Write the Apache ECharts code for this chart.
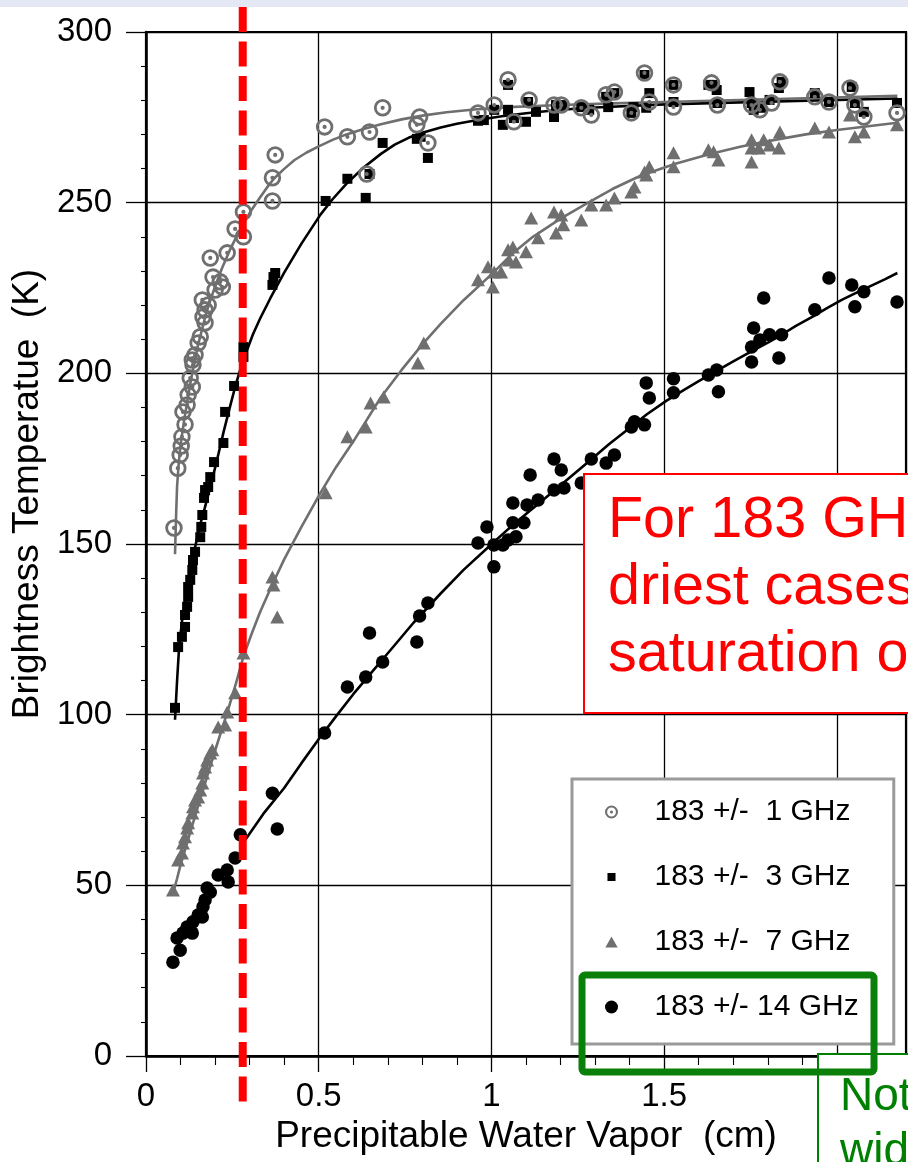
<!DOCTYPE html>
<html><head><meta charset="utf-8">
<script src="https://cdn.jsdelivr.net/npm/echarts@6/dist/echarts.min.js"></script>
<style>html,body{margin:0;padding:0;background:#fff}#c{width:908px;height:1162px}</style>
</head><body><div id="c"></div>
<script>
const seriesNames = ['183 +/-  1 GHz', '183 +/-  3 GHz', '183 +/-  7 GHz', '183 +/- 14 GHz'];
const xAxisTitle = 'Precipitable Water Vapor  (cm)';
const yAxisTitle = 'Brightness Temperatue  (K)';
const cutoffPWV = 0.28;
const redNote = ['For 183 GHz ±1, even the', 'driest cases show', 'saturation of signal'];
const greenNote = ['Note the', 'widest band'];

// [PWV (cm), Tb (K)]
const ch1Points = [[0.081,154.7],[0.092,172.2],[0.099,176.1],[0.102,178.7],[0.104,181.4],[0.113,185.0],[0.107,188.7],[0.119,190.7],[0.122,193.7],[0.134,196.0],[0.128,198.6],[0.136,202.5],[0.134,203.9],[0.142,205.4],[0.151,208.9],[0.157,210.7],[0.171,214.8],[0.165,216.5],[0.171,218.6],[0.180,220.0],[0.163,221.5],[0.200,224.4],[0.221,225.3],[0.215,226.8],[0.194,228.2],[0.186,233.8],[0.235,235.3],[0.282,240.0],[0.258,242.3],[0.282,247.3],[0.366,250.5],[0.366,257.3],[0.374,264.0],[0.517,272.2],[0.583,269.3],[0.639,258.4],[0.647,270.7],[0.685,277.8],[0.784,272.8],[0.792,275.1],[0.816,267.5],
[0.961,276.3],[1.008,278.6],[1.048,286.0],[1.065,273.7],[1.109,280.1],[1.181,278.6],[1.202,278.6],[1.260,277.8],[1.289,275.7],[1.332,281.6],[1.356,282.4],[1.405,276.3],[1.443,288.0],[1.457,279.5],[1.527,284.5],[1.527,278.0],[1.637,285.1],[1.654,278.6],[1.753,278.6],[1.777,277.2],[1.811,279.2],[1.835,285.4],[1.936,281.0],[1.977,279.5],[2.038,283.6],[2.052,278.6],[2.078,275.1],[2.174,276.3]];

const ch3Points = [[0.084,102.0],[0.093,119.8],[0.104,122.8],[0.113,125.7],[0.113,129.2],[0.119,131.6],[0.122,134.5],[0.122,137.4],[0.128,139.5],[0.134,142.4],[0.136,145.3],[0.142,147.7],[0.157,152.0],[0.160,155.0],[0.163,158.5],[0.168,163.5],[0.171,165.8],[0.180,166.7],[0.186,169.6],[0.197,174.0],[0.224,179.6],[0.229,188.7],[0.255,196.3],[0.282,204.8],[0.282,207.7],[0.366,225.9],[0.369,228.2],[0.374,229.4],[0.520,250.5],[0.583,257.0],[0.636,251.4],[0.647,258.4],[0.685,267.5],[0.784,268.7],[0.795,269.3],[0.816,263.1],
[0.961,274.0],[0.978,274.2],[1.008,277.2],[1.048,284.5],[1.033,272.8],[1.048,277.2],[1.065,274.8],[1.100,273.7],[1.106,279.5],[1.129,276.6],[1.181,275.1],[1.187,278.6],[1.208,278.6],[1.260,278.0],[1.283,277.2],[1.332,281.0],[1.338,278.0],[1.356,282.1],[1.411,278.0],[1.405,276.3],[1.443,287.4],[1.457,282.1],[1.448,277.8],[1.527,284.5],[1.527,279.5],[1.628,284.5],[1.643,284.5],[1.652,283.0],[1.654,279.2],[1.747,282.4],[1.753,279.2],[1.759,277.2],[1.782,277.8],[1.805,280.1],[1.832,283.6],[1.840,285.4],[1.936,282.1],[1.977,279.5],[2.043,283.9],[2.052,279.2],[2.078,276.6],[2.174,279.2]];

const ch7Points = [[0.078,48.6],[0.093,57.4],[0.104,59.5],[0.107,62.4],[0.113,64.2],[0.119,66.8],[0.122,68.3],[0.134,71.2],[0.136,73.0],[0.142,75.0],[0.151,75.9],[0.157,77.9],[0.163,80.0],[0.165,82.9],[0.171,84.7],[0.177,86.7],[0.186,88.8],[0.192,89.7],[0.209,96.4],[0.229,97.0],[0.235,100.8],[0.258,106.4],[0.282,118.1],[0.380,128.6],[0.369,138.0],[0.366,140.3],[0.520,165.0],[0.583,181.4],[0.636,184.3],[0.650,191.3],[0.688,193.1],[0.787,203.0],[0.804,208.9],
[0.961,227.4],[0.990,231.2],[1.008,229.7],[1.004,225.3],[1.028,229.7],[1.048,236.2],[1.062,237.0],[1.051,233.2],[1.071,232.6],[1.100,235.6],[1.115,245.5],[1.135,239.7],[1.181,247.3],[1.187,241.1],[1.202,246.4],[1.208,243.5],[1.260,244.9],[1.289,249.3],[1.332,249.3],[1.356,251.4],[1.405,253.1],[1.414,254.6],[1.443,259.0],[1.457,260.5],[1.448,258.1],[1.527,264.6],[1.527,260.5],[1.628,265.5],[1.643,264.9],[1.657,262.5],[1.753,268.4],[1.753,266.0],[1.753,261.9],[1.774,266.0],[1.788,268.4],[1.805,266.9],[1.832,266.0],[1.835,270.7],[1.936,271.9],[1.977,270.7],[2.038,275.7],[2.052,269.3],[2.078,270.7],[2.174,272.8]];

const ch14Points = [[0.078,27.5],[0.099,31.0],[0.090,34.6],[0.107,36.0],[0.119,37.8],[0.134,36.0],[0.136,39.3],[0.151,41.3],[0.163,40.7],[0.165,43.7],[0.171,45.7],[0.177,49.2],[0.186,48.0],[0.209,53.0],[0.235,54.5],[0.238,51.0],[0.258,58.0],[0.273,64.8],[0.366,77.0],[0.380,66.5],[0.517,94.6],[0.583,108.1],[0.636,111.0],[0.647,123.9],[0.685,115.4],[0.784,121.3],[0.792,128.9],[0.816,132.7],
[0.961,150.3],[0.987,155.0],[1.007,143.3],[1.007,149.7],[1.033,149.7],[1.048,151.2],[1.071,152.1],[1.062,156.2],[1.062,162.0],[1.094,156.2],[1.103,161.4],[1.112,170.2],[1.135,162.9],[1.181,165.8],[1.181,174.9],[1.202,171.7],[1.210,166.4],[1.260,167.9],[1.289,174.9],[1.332,173.7],[1.356,176.1],[1.405,184.3],[1.414,185.8],[1.443,184.9],[1.448,197.2],[1.457,192.8],[1.527,198.4],[1.527,194.3],[1.628,199.5],[1.652,201.0],[1.657,194.6],[1.753,207.7],[1.753,203.3],[1.759,213.3],[1.777,209.8],[1.805,211.3],[1.832,204.5],[1.840,211.3],[1.788,222.1],[1.936,218.6],[1.977,227.9],[2.043,225.9],[2.052,219.5],[2.078,223.9],[2.174,220.9]];

// fitted curves
const ch1Fit = [[0.084,147],[0.087,158],[0.09,167],[0.095,174],[0.1,179],[0.11,186],[0.12,192],[0.13,198],[0.14,203],[0.15,208],[0.16,212],[0.17,216],[0.18,219.5],[0.2,225.5],[0.22,230.8],[0.24,235.5],[0.26,239.7],[0.28,243.5],[0.305,247.8],[0.33,251.5],[0.35,254.4],[0.37,257],[0.4,259.9],[0.43,262.5],[0.465,264.7],[0.5,266.5],[0.54,268.4],[0.58,270],[0.63,271.6],[0.68,273],[0.74,274.4],[0.8,275.5],[0.87,276.5],[0.95,277.3],[1.05,278],[1.2,278.6],[1.35,279.1],[1.5,279.5],[1.8,280.3],[2.175,281.3]];
const ch3Fit = [[0.084,98.5],[0.09,110],[0.096,120],[0.105,128],[0.12,136],[0.13,142],[0.142,149],[0.155,155],[0.17,160.5],[0.192,169],[0.21,176.5],[0.225,183],[0.24,189],[0.258,196],[0.275,201.8],[0.293,207],[0.31,211.5],[0.33,216],[0.36,222],[0.4,229.5],[0.45,238],[0.505,246.5],[0.54,251],[0.58,255.5],[0.63,260.3],[0.68,264.3],[0.72,267],[0.76,269],[0.8,270.5],[0.853,272],[0.9,273.1],[0.96,274.2],[1.03,275.3],[1.1,276.2],[1.2,277.2],[1.3,277.9],[1.5,278.8],[1.8,279.6],[2.175,280.5]];
const ch7Fit = [[0.078,47.5],[0.09,52],[0.1,56],[0.125,64.5],[0.15,73],[0.175,81.3],[0.2,89.5],[0.235,100.5],[0.26,109],[0.282,117],[0.305,123.5],[0.33,130],[0.365,138],[0.4,145.5],[0.45,155],[0.505,165],[0.55,172.5],[0.6,180],[0.64,186.5],[0.68,193],[0.74,201],[0.8,208.5],[0.853,214.5],[0.92,221.5],[1.0,229],[1.06,235],[1.12,240],[1.2,245.3],[1.28,250],[1.35,254],[1.43,257.8],[1.53,261.3],[1.63,264.2],[1.72,266.4],[1.82,268.4],[1.91,270],[2.0,271.3],[2.09,272.4],[2.175,273.4]];
const ch14Fit = [[0.285,63],[0.34,71],[0.4,78.5],[0.45,85.8],[0.505,93.5],[0.55,99.5],[0.6,106],[0.65,112],[0.7,118],[0.775,127],[0.853,135.5],[0.92,142.5],[1.004,150.3],[1.05,154.5],[1.1,158.8],[1.15,163],[1.2,167.2],[1.28,174],[1.34,179.2],[1.4,184],[1.45,188],[1.507,192],[1.56,195.3],[1.6,197.7],[1.657,201],[1.7,203.5],[1.75,206.3],[1.8,209],[1.84,211.3],[1.88,213.8],[1.93,216.6],[1.97,219],[2.014,221.5],[2.06,223.8],[2.1,225.7],[2.14,227.6],[2.175,229.4]];

const GRAY = '#6f6f6f';
const FONT = "'Liberation Sans', Arial, Helvetica, sans-serif";
const RING = 'path://M10,0 A10,10 0 1,1 10,20 A10,10 0 1,1 10,0 Z M10,3.2 A6.8,6.8 0 1,0 10,16.8 A6.8,6.8 0 1,0 10,3.2 Z M10,7.6 A2.4,2.4 0 1,1 10,12.4 A2.4,2.4 0 1,1 10,7.6 Z';
const ICON_RING = RING;
const ICON_SQUARE = 'path://M0,0 M20,20 M3.8,3.8 L16.2,3.8 L16.2,16.2 L3.8,16.2 Z';
const ICON_TRI = 'path://M0,0 M20,20 M10,1.5 L19.5,18.5 L0.5,18.5 Z';
const ICON_DOT = 'path://M10,0 A10,10 0 1,1 10,20 A10,10 0 1,1 10,0 Z';

const chart = echarts.init(document.getElementById('c'), null, {renderer: 'canvas'});

function fitLine(name, data, color) {
  return {name: name, type: 'line', data: data, showSymbol: false, smooth: false,
    lineStyle: {color: color, width: 2.6}, itemStyle: {color: color}, z: 2, silent: true};
}

const option = {
  animation: false,
  backgroundColor: '#fff',
  textStyle: {fontFamily: FONT},
  grid: {left: 146, right: 2, top: 32, bottom: 106, show: true, borderColor: '#000', borderWidth: 2.2, backgroundColor: 'transparent'},
  xAxis: {
    type: 'value', min: 0, max: 2.2, interval: 0.5,
    name: xAxisTitle, nameLocation: 'middle', nameGap: 62,
    nameTextStyle: {fontSize: 37, color: '#000', fontFamily: FONT},
    axisLine: {lineStyle: {color: '#000', width: 2.5}},
    axisTick: {show: true, inside: false, length: 16, lineStyle: {color: '#000', width: 1.3}},
    minorTick: {show: true, splitNumber: 5, length: 9, lineStyle: {color: '#000', width: 1.1}},
    axisLabel: {fontSize: 33, color: '#000', margin: 24, showMaxLabel: false, fontFamily: FONT,
      formatter: v => (v === 0 ? '0' : String(v))},
    splitLine: {show: true, lineStyle: {color: '#000', width: 1.3}},
    minorSplitLine: {show: false}
  },
  yAxis: {
    type: 'value', min: 0, max: 300, interval: 50,
    name: yAxisTitle, nameLocation: 'middle', nameGap: 100,
    nameTextStyle: {fontSize: 37, color: '#000', fontFamily: FONT, padding: [0, 0, 0, 100]},
    axisLine: {lineStyle: {color: '#000', width: 2.5}},
    axisTick: {show: true, inside: false, length: 20, lineStyle: {color: '#000', width: 1.3}},
    minorTick: {show: true, splitNumber: 5, length: 5, lineStyle: {color: '#000', width: 1.1}},
    axisLabel: {fontSize: 33, color: '#000', margin: 34, fontFamily: FONT},
    splitLine: {show: true, lineStyle: {color: '#000', width: 1.3}}
  },
  legend: {
    show: true, orient: 'vertical', left: 572, top: 779,
    padding: [18, 35, 22, 33], itemGap: 35, itemWidth: 76, itemHeight: 13,
    symbolKeepAspect: true, selectedMode: false,
    backgroundColor: '#fff', borderColor: '#9a9a9a', borderWidth: 3,
    textStyle: {fontSize: 30, color: '#000', fontFamily: FONT, lineHeight: 30},
    data: [
      {name: seriesNames[0], icon: ICON_RING},
      {name: seriesNames[1], icon: ICON_SQUARE},
      {name: seriesNames[2], icon: ICON_TRI},
      {name: seriesNames[3], icon: ICON_DOT}
    ],
    z: 10
  },
  series: [
    fitLine('fit7', ch7Fit, GRAY),
    fitLine('fit14', ch14Fit, '#000'),
    fitLine('fit3', ch3Fit, '#000'),
    fitLine('fit1', ch1Fit, GRAY),
    {name: seriesNames[2], type: 'scatter', data: ch7Points, symbol: 'triangle', symbolSize: [14, 13],
      itemStyle: {color: GRAY, opacity: 1}, z: 3},
    {name: seriesNames[3], type: 'scatter', data: ch14Points, symbol: 'circle', symbolSize: 13.5,
      itemStyle: {color: '#000', opacity: 1}, z: 3},
    {name: seriesNames[1], type: 'scatter', data: ch3Points, symbol: 'rect', symbolSize: 10,
      itemStyle: {color: '#000', opacity: 1}, z: 4},
    {name: seriesNames[0], type: 'scatter', data: ch1Points, symbol: RING, symbolSize: 17.5, symbolKeepAspect: true,
      itemStyle: {color: GRAY, opacity: 1}, z: 4}
  ]
};
chart.setOption(option);

const cutX = chart.convertToPixel({xAxisIndex: 0}, cutoffPWV);
chart.setOption({
  graphic: [
    {type: 'rect', z: 100, shape: {x: 0, y: 0, width: 908, height: 7}, style: {fill: '#e4e8f5'}},
    {type: 'line', z: 100, shape: {x1: cutX, y1: 7, x2: cutX, y2: 1102},
      style: {stroke: '#ff0000', lineWidth: 8, lineDash: [25, 9.5]}},
    {type: 'rect', z: 100, shape: {x: 584, y: 474, width: 600, height: 239},
      style: {fill: '#fff', stroke: '#ff0000', lineWidth: 2}},
    {type: 'text', z: 101, x: 608, y: 488, style: {text: redNote.join('\n'), fill: '#ff0000',
      font: '57.5px ' + FONT, lineHeight: 67, verticalAlign: 'top'}},
    {type: 'rect', z: 100, shape: {x: 818, y: 1054, width: 400, height: 200},
      style: {fill: '#fff', stroke: '#008000', lineWidth: 2}},
    {type: 'text', z: 101, x: 840, y: 1070, style: {text: greenNote.join('\n'), fill: '#008000',
      font: '46px ' + FONT, lineHeight: 55, verticalAlign: 'top'}},
    {type: 'rect', z: 102, shape: {x: 582, y: 975, width: 292, height: 97, r: 3},
      style: {fill: 'none', stroke: '#0a800a', lineWidth: 7}}
  ]
});
</script></body></html>
